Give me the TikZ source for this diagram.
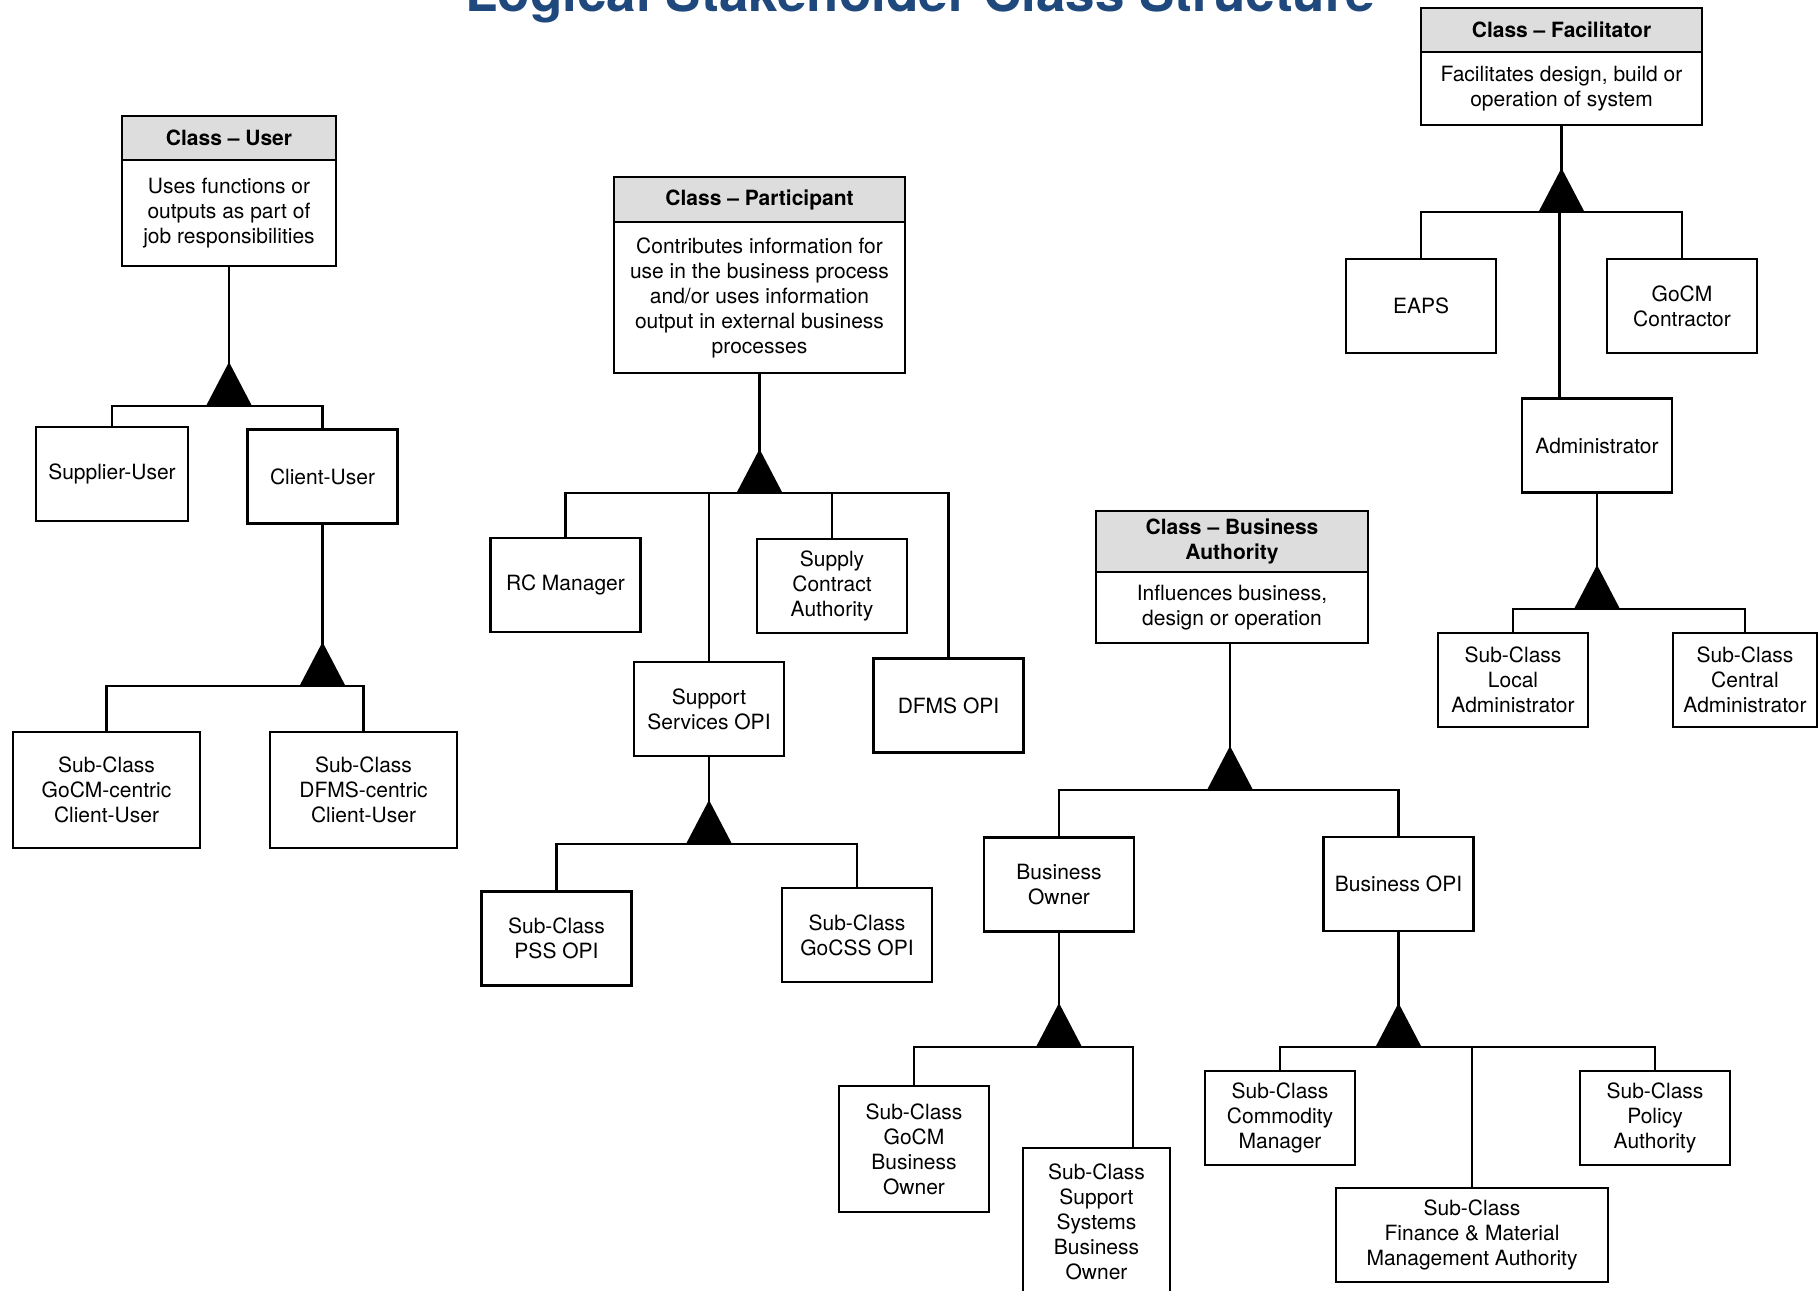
\documentclass[tikz,border=0pt]{standalone}
\usepackage{fontspec}
\setmainfont{TeX Gyre Heros}
\usetikzlibrary{positioning}

\definecolor{titleblue}{RGB}{31,73,125}
\definecolor{hdrgray}{RGB}{221,221,221}
\newcommand{\boxfont}{\fontsize{10.5}{12.5}\selectfont}
% filled generalisation triangle, base centre at #1
\newcommand{\gentri}[1]{\fill (#1) ++(-23,0) -- ++(23,-44) -- ++(23,44) -- cycle;}

\tikzset{
  leaf/.style={draw,line width=1.1pt,align=center,inner sep=0pt,outer sep=0pt,
    minimum width=75pt,minimum height=47pt,font=\boxfont},
  clshead/.style={leaf,fill=hdrgray,font=\boxfont\bfseries,minimum height=22pt},
  clsbody/.style={leaf},
  link/.style={line width=1.1pt},
}

\begin{document}
\begin{tikzpicture}[x=.5pt,y=-.5pt]
\clip (0,0) rectangle (1819,1290);
\node[font=\fontsize{26.5}{30}\selectfont\bfseries,text=titleblue,anchor=base,inner sep=0pt]
  (title) at (920.5,11) {Logical Stakeholder Class Structure};

% class - user
\node[clshead,minimum width=107pt,anchor=north] (userH) at (229,116) {Class -- User};
\node[clsbody,minimum width=107pt,minimum height=53pt,below=0pt of userH] (userB)
  {Uses functions or\\outputs as part of\\job responsibilities};
\node[leaf,minimum width=76pt] (sup) at (112,474) {Supplier-User};
\node[leaf] (cli) at (322.5,476.5) {Client-User};
\node[leaf,minimum width=93.5pt,minimum height=58pt] (gcc) at (106.5,790) {Sub-Class\\GoCM-centric\\Client-User};
\node[leaf,minimum width=93.5pt,minimum height=58pt] (dcc) at (363.5,790) {Sub-Class\\DFMS-centric\\Client-User};

\coordinate (userT) at (229,406);
\draw[link] (userB.south) -- (userT);
\draw[link] (sup.north) |- (userT) -| (cli.north);
\gentri{userT}
\coordinate (cliT) at (322.5,686);
\draw[link] (cli.south) -- (cliT);
\draw[link] (gcc.north) |- (cliT) -| (dcc.north);
\gentri{cliT}

% class - participant
\node[clshead,minimum width=145.5pt,minimum height=22.5pt,anchor=north] (partH) at (759.5,177) {Class -- Participant};
\node[clsbody,minimum width=145.5pt,minimum height=75.5pt,below=0pt of partH] (partB)
  {Contributes information for\\use in the business process\\and/or uses information\\output in external business\\processes};
\node[leaf] (rcm) at (565.5,585) {RC Manager};
\node[leaf] (sca) at (832,586) {Supply\\Contract\\Authority};
\node[leaf] (sso) at (709,709) {Support\\Services OPI};
\node[leaf] (dfms) at (948.5,705.5) {DFMS OPI};
\node[leaf] (pss) at (556.5,938.5) {Sub-Class\\PSS OPI};
\node[leaf] (gcss) at (857,935) {Sub-Class\\GoCSS OPI};

\coordinate (partT) at (759.5,493);
\draw[link] (partB.south) -- (partT);
\draw[link] (rcm.north) |- (partT) -| (dfms.north);
\draw[link] (sso.north) -- (sso.north |- partT);
\draw[link] (sca.north) -- (sca.north |- partT);
\gentri{partT}
\coordinate (ssoT) at (709,844);
\draw[link] (sso.south) -- (ssoT);
\draw[link] (pss.north) |- (ssoT) -| (gcss.north);
\gentri{ssoT}

% class - facilitator
\node[clshead,minimum width=140.5pt,anchor=north] (facH) at (1561.5,8) {Class -- Facilitator};
\node[clsbody,minimum width=140.5pt,minimum height=36.5pt,below=0pt of facH] (facB)
  {Facilitates design, build or\\operation of system};
\node[leaf] (eaps) at (1421,306) {EAPS};
\node[leaf] (gcon) at (1682,306) {GoCM\\Contractor};
\node[leaf] (adm) at (1597,445.5) {Administrator};
\node[leaf] (lad) at (1513,680) {Sub-Class\\Local\\Administrator};
\node[leaf,minimum width=72pt] (cad) at (1745,680) {Sub-Class\\Central\\Administrator};

\coordinate (facT) at (1561.5,212);
\draw[link] (facB.south) -- (facT);
\draw[link] (eaps.north) |- (facT) -| (gcon.north);
\draw[link] ([xshift=-1pt]facT) -- ([xshift=-1pt]facT |- adm.north);
\gentri{facT}
\coordinate (admT) at (1597,609);
\draw[link] (adm.south) -- (admT);
\draw[link] (lad.north) |- (admT) -| (cad.north);
\gentri{admT}

% class - business authority
\node[clshead,minimum width=136pt,minimum height=30.5pt,anchor=north] (busH) at (1232,511) {Class -- Business\\Authority};
\node[clsbody,minimum width=136pt,minimum height=35.5pt,below=0pt of busH] (busB)
  {Influences business,\\design or operation};
\node[leaf] (bown) at (1059,884.5) {Business\\Owner};
\node[leaf] (bopi) at (1398.5,884) {Business OPI};
\node[leaf,minimum height=63pt] (gbo) at (914,1149) {Sub-Class\\GoCM\\Business\\Owner};
\node[leaf,minimum width=73.5pt,minimum height=74pt] (ssbo) at (1096.5,1222) {Sub-Class\\Support\\Systems\\Business\\Owner};
\node[leaf] (com) at (1280,1118) {Sub-Class\\Commodity\\Manager};
\node[leaf] (pol) at (1655,1118) {Sub-Class\\Policy\\Authority};
\node[leaf,minimum width=136pt] (fin) at (1472,1235) {Sub-Class\\Finance \& Material\\Management Authority};

\coordinate (busT) at (1230,790);
\draw[link] (busB.south -| busT) -- (busT);
\draw[link] (bown.north) |- (busT) -| (bopi.north);
\gentri{busT}
\coordinate (bownT) at (1059,1047);
\coordinate (bownR) at (1133,1047);
\draw[link] (bown.south) -- (bownT);
\draw[link] (gbo.north) |- (bownT) -- (bownR) -- (bownR |- ssbo.north);
\gentri{bownT}
\coordinate (bopiT) at (1398.5,1047);
\draw[link] (bopi.south) -- (bopiT);
\draw[link] (com.north) |- (bopiT) -| (pol.north);
\draw[link] (fin.north) -- (fin.north |- bopiT);
\gentri{bopiT}
\end{tikzpicture}
\end{document}
